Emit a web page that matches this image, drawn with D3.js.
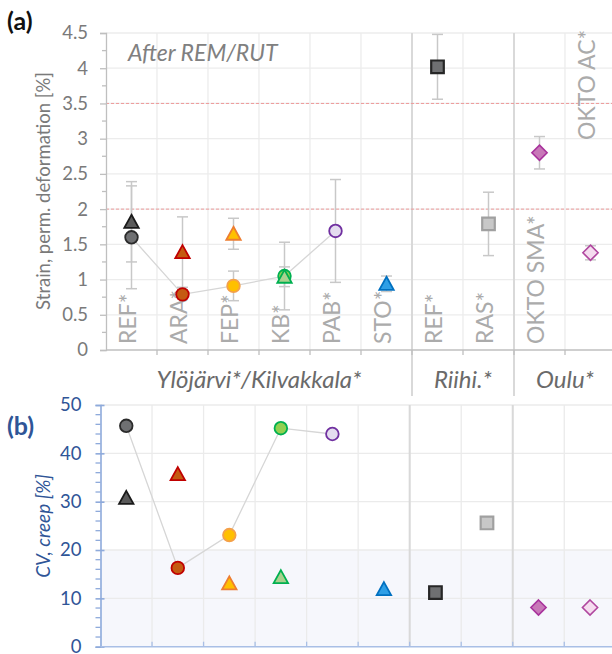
<!DOCTYPE html>
<html><head><meta charset="utf-8">
<script src="https://cdn.jsdelivr.net/npm/d3@7"></script>
<style>body{margin:0;background:#fff}svg{display:block}</style>
</head><body>
<svg id="chart" width="612" height="654"></svg>
<script>
// ---- data ----
const categories = ["REF*", "ARA*", "FEP*", "KB*", "PAB*", "STO*", "REF*", "RAS*", "OKTO SMA*", "OKTO AC*"];
const groupNames = ["Ylöjärvi*/Kilvakkala*", "Riihi.*", "Oulu*"];
const groupFirst = [0, 6, 8];
const groupLast = [5, 7, 9];
const strainTicks = [0, 0.5, 1, 1.5, 2, 2.5, 3, 3.5, 4, 4.5];
const cvTicks = [0, 10, 20, 30, 40, 50];
const strainLimits = [2, 3.5];
const cvLimit = 20;

// circles (joined by a line)
const circleCats = [0, 1, 2, 3, 4];
const circleStrain = [1.60, 0.79, 0.91, 1.05, 1.69];
const circleStrainErr = [0.73, 0.06, 0.21, 0.48, 0.73];
const circleCV = [45.7, 16.3, 23.1, 45.2, 44.0];
// triangles
const triangleCats = [0, 1, 2, 3, 5];
const triangleStrain = [1.82, 1.39, 1.65, 1.04, 0.94];
const triangleStrainErr = [0.57, 0.50, 0.22, 0.14, 0.11];
const triangleCV = [30.8, 35.7, 13.1, 14.4, 11.9];
// squares
const squareCats = [6, 7];
const squareStrain = [4.02, 1.79];
const squareStrainErr = [0.46, 0.45];
const squareCV = [11.2, 25.6];
// diamonds
const diamondCats = [8, 9];
const diamondStrain = [2.80, 1.38];
const diamondStrainErr = [0.23, 0.10];
const diamondCV = [8.1, 8.1];

// ---- styles ----
const circleFill = ["#6f7072", "#c55a11", "#ffc000", "#92d050", "#e4dcef"];
const circleStroke = ["#2b2b2b", "#c00000", "#f4a04a", "#00b050", "#7030a0"];
const triangleFill = ["#5a5a5a", "#c55a11", "#ffc000", "#a9d18e", "#2e9fe6"];
const triangleStroke = ["#1a1a1a", "#c00000", "#ed7d31", "#00b050", "#0070c0"];
const squareFill = ["#6f7072", "#c8c8c8"];
const squareStroke = ["#262626", "#a0a0a0"];
const diamondFill = ["#c878b8", "#f5dcef"];
const diamondStroke = ["#a8329c", "#b0479f"];

const FONT = "Lato, 'Open Sans', sans-serif";
const svg = d3.select("#chart").style("font-family", FONT);

const shapes = {
  circle: (x, y) => { const r = 6.3; return `M${x - r},${y}a${r},${r} 0 1,0 ${2 * r},0a${r},${r} 0 1,0 ${-2 * r},0Z`; },
  triangle: (x, y) => `M${x},${y - 7}L${x + 7.2},${y + 6}L${x - 7.2},${y + 6}Z`,
  square: (x, y) => { const h = 6.3; return `M${x - h},${y - h}h${2 * h}v${2 * h}h${-2 * h}Z`; },
  diamond: (x, y) => { const h = 7.6; return `M${x},${y - h}L${x + h},${y}L${x},${y + h}L${x - h},${y}Z`; }
};

const series = [
  { shape: "circle", cats: circleCats, strain: circleStrain, err: circleStrainErr, cv: circleCV, fill: circleFill, stroke: circleStroke, sw: 1.8 },
  { shape: "triangle", cats: triangleCats, strain: triangleStrain, err: triangleStrainErr, cv: triangleCV, fill: triangleFill, stroke: triangleStroke, sw: 1.8 },
  { shape: "square", cats: squareCats, strain: squareStrain, err: squareStrainErr, cv: squareCV, fill: squareFill, stroke: squareStroke, sw: 2.2 },
  { shape: "diamond", cats: diamondCats, strain: diamondStrain, err: diamondStrainErr, cv: diamondCV, fill: diamondFill, stroke: diamondStroke, sw: 1.6 }
];
const separators = [6, 8];

// ================= panel (a) =================
const xa = d3.scaleBand().domain(d3.range(categories.length)).range([106, 616]).padding(0);
const ya = d3.scaleLinear().domain([0, 4.5]).range([350, 33]);
const ca = i => xa(i) + xa.bandwidth() / 2;

const ga = svg.append("g");
// grid
ga.append("g").selectAll("line").data(strainTicks.filter(t => t > 0)).join("line")
  .attr("x1", 106).attr("x2", 616).attr("y1", d => ya(d)).attr("y2", d => ya(d))
  .attr("stroke", "#ececec").attr("stroke-width", 1.3);
ga.append("g").selectAll("line").data(d3.range(1, categories.length + 1)).join("line")
  .attr("x1", d => xa(d) ?? 616).attr("x2", d => xa(d) ?? 616).attr("y1", ya(4.5)).attr("y2", ya(0))
  .attr("stroke", "#ececec").attr("stroke-width", 1.3);
// group separators
ga.append("g").selectAll("line").data(separators).join("line")
  .attr("x1", d => xa(d)).attr("x2", d => xa(d)).attr("y1", ya(4.5)).attr("y2", 396)
  .attr("stroke", "#d9d9d9").attr("stroke-width", 2);
// limit lines
ga.append("g").selectAll("line").data(strainLimits).join("line")
  .attr("x1", 106).attr("x2", 616).attr("y1", d => ya(d)).attr("y2", d => ya(d))
  .attr("stroke", "#ee9a9a").attr("stroke-width", 1).attr("stroke-dasharray", "3,2");

// axes
const yAxisA = d3.axisLeft(ya).tickValues(strainTicks).tickSize(6).tickPadding(12).tickFormat(d => String(d));
const yA = ga.append("g").attr("transform", "translate(106,0)").call(yAxisA);
yA.select(".domain").attr("stroke", "#bfbfbf").attr("stroke-width", 1.3);
yA.selectAll(".tick line").attr("stroke", "#bfbfbf").attr("stroke-width", 1.3);
yA.selectAll(".tick text").attr("fill", "#7a7a7a").style("font-size", "18.5px").style("font-family", FONT);
ga.append("g").selectAll("line").data(d3.range(0.25, 4.5, 0.5)).join("line")
  .attr("x1", 102).attr("x2", 106).attr("y1", d => ya(d)).attr("y2", d => ya(d))
  .attr("stroke", "#bfbfbf").attr("stroke-width", 1.3);
ga.append("line").attr("x1", 106).attr("x2", 616).attr("y1", ya(0)).attr("y2", ya(0))
  .attr("stroke", "#bfbfbf").attr("stroke-width", 1.3);
ga.append("g").selectAll("line").data(d3.range(1, categories.length)).join("line")
  .attr("x1", d => xa(d)).attr("x2", d => xa(d)).attr("y1", ya(0)).attr("y2", ya(0) + 5)
  .attr("stroke", "#bfbfbf").attr("stroke-width", 1.3);

// category labels, written upwards inside the plot
ga.append("g").selectAll("text").data(categories).join("text")
  .attr("transform", (d, i) => `translate(${ca(i) + 4.5},${i === categories.length - 1 ? 140 : 344}) rotate(-90)`)
  .attr("fill", "#ababab").style("font-size", "23px").text(d => d);

// group names
ga.append("g").selectAll("text").data(groupNames).join("text")
  .attr("x", (d, i) => (xa(groupFirst[i]) + xa(groupLast[i]) + xa.bandwidth()) / 2)
  .attr("y", 388).attr("text-anchor", "middle").attr("fill", "#6a6a6a")
  .style("font-size", "24px").style("font-style", "italic").text(d => d);

ga.append("text").attr("x", 128).attr("y", 61).attr("fill", "#808080")
  .style("font-size", "23px").style("font-style", "italic").text("After REM/RUT");

ga.append("text").attr("transform", "translate(50,191) rotate(-90)").attr("text-anchor", "middle")
  .attr("fill", "#7a7a7a").style("font-size", "18.5px").text("Strain, perm. deformation [%]");

ga.append("text").attr("x", 7).attr("y", 30).attr("fill", "#111")
  .style("font-size", "25px").style("font-weight", "bold").text("(a)");

// connecting line through circles
const lineA = d3.line().x(d => ca(d.c)).y(d => ya(d.v));
ga.append("path").datum(circleCats.map((c, i) => ({ c, v: circleStrain[i] })))
  .attr("d", lineA).attr("fill", "none").attr("stroke", "#d6d6d6").attr("stroke-width", 1.3);

// error bars
series.forEach(s => {
  const eb = ga.append("g");
  s.cats.forEach((c, i) => {
    const x = ca(c), lo = ya(s.strain[i] - s.err[i]), hi = ya(s.strain[i] + s.err[i]);
    eb.append("line").attr("x1", x).attr("x2", x).attr("y1", lo).attr("y2", hi);
    eb.append("line").attr("x1", x - 5.5).attr("x2", x + 5.5).attr("y1", lo).attr("y2", lo);
    eb.append("line").attr("x1", x - 5.5).attr("x2", x + 5.5).attr("y1", hi).attr("y2", hi);
  });
  eb.selectAll("line").attr("stroke", "#c8c8c8").attr("stroke-width", 1.5);
});
// markers
series.forEach(s => {
  ga.append("g").selectAll("path").data(s.cats).join("path")
    .attr("d", (c, i) => shapes[s.shape](ca(c), ya(s.strain[i])))
    .attr("fill", (c, i) => s.fill[i]).attr("stroke", (c, i) => s.stroke[i]).attr("stroke-width", s.sw);
});

// ================= panel (b) =================
const xb = d3.scaleBand().domain(d3.range(categories.length)).range([100.5, 615.8]).padding(0);
const yb = d3.scaleLinear().domain([0, 50]).range([646.7, 405]);
const cb = i => xb(i) + xb.bandwidth() / 2;
const gb = svg.append("g");

gb.append("rect").attr("x", 100.5).attr("width", 515.3).attr("y", yb(cvLimit)).attr("height", yb(0) - yb(cvLimit))
  .attr("fill", "#f6f7fc");
gb.append("g").selectAll("line").data(cvTicks.filter(t => t > 0)).join("line")
  .attr("x1", 100.5).attr("x2", 616).attr("y1", d => yb(d)).attr("y2", d => yb(d))
  .attr("stroke", "#ebebeb").attr("stroke-width", 1.3);
gb.append("g").selectAll("line").data(d3.range(1, categories.length)).join("line")
  .attr("x1", d => xb(d)).attr("x2", d => xb(d)).attr("y1", yb(50)).attr("y2", yb(0))
  .attr("stroke", "#ebebeb").attr("stroke-width", 1.3);
gb.append("g").selectAll("line").data(separators).join("line")
  .attr("x1", d => xb(d)).attr("x2", d => xb(d)).attr("y1", yb(50)).attr("y2", yb(0))
  .attr("stroke", "#d9d9d9").attr("stroke-width", 2);

const yAxisB = d3.axisLeft(yb).tickValues(cvTicks).tickSize(5).tickPadding(14);
const yB = gb.append("g").attr("transform", "translate(100.5,0)").call(yAxisB);
yB.select(".domain").attr("stroke", "#8eaadb").attr("stroke-width", 1.6);
yB.selectAll(".tick line").attr("stroke", "#8eaadb").attr("stroke-width", 1.6).attr("x2", 4).attr("x1", -5);
yB.selectAll(".tick text").attr("fill", "#2f5597").style("font-size", "18.5px").style("font-family", FONT);
gb.append("g").selectAll("line").data(d3.range(2, 50, 2).filter(d => d % 10 !== 0)).join("line")
  .attr("x1", 95.5).attr("x2", 100.5).attr("y1", d => yb(d)).attr("y2", d => yb(d))
  .attr("stroke", "#8eaadb").attr("stroke-width", 1.3);
gb.append("line").attr("x1", 100.5).attr("x2", 616).attr("y1", yb(0)).attr("y2", yb(0))
  .attr("stroke", "#a9bfe6").attr("stroke-width", 1.6);
gb.append("g").selectAll("line").data(d3.range(1, categories.length)).join("line")
  .attr("x1", d => xb(d)).attr("x2", d => xb(d)).attr("y1", yb(0)).attr("y2", yb(0) - 5)
  .attr("stroke", "#a9bfe6").attr("stroke-width", 1.3);

gb.append("text").attr("transform", "translate(50,526) rotate(-90)").attr("text-anchor", "middle")
  .attr("fill", "#2f5597").style("font-size", "19px").style("font-style", "italic").text("CV, creep [%]");
gb.append("text").attr("x", 7).attr("y", 435).attr("fill", "#2f5597")
  .style("font-size", "25px").style("font-weight", "bold").text("(b)");

const lineB = d3.line().x(d => cb(d.c)).y(d => yb(d.v));
gb.append("path").datum(circleCats.map((c, i) => ({ c, v: circleCV[i] })))
  .attr("d", lineB).attr("fill", "none").attr("stroke", "#d6d6d6").attr("stroke-width", 1.3);

series.forEach(s => {
  gb.append("g").selectAll("path").data(s.cats).join("path")
    .attr("d", (c, i) => shapes[s.shape](cb(c), yb(s.cv[i])))
    .attr("fill", (c, i) => s.fill[i]).attr("stroke", (c, i) => s.stroke[i]).attr("stroke-width", s.sw);
});
</script>
</body></html>
